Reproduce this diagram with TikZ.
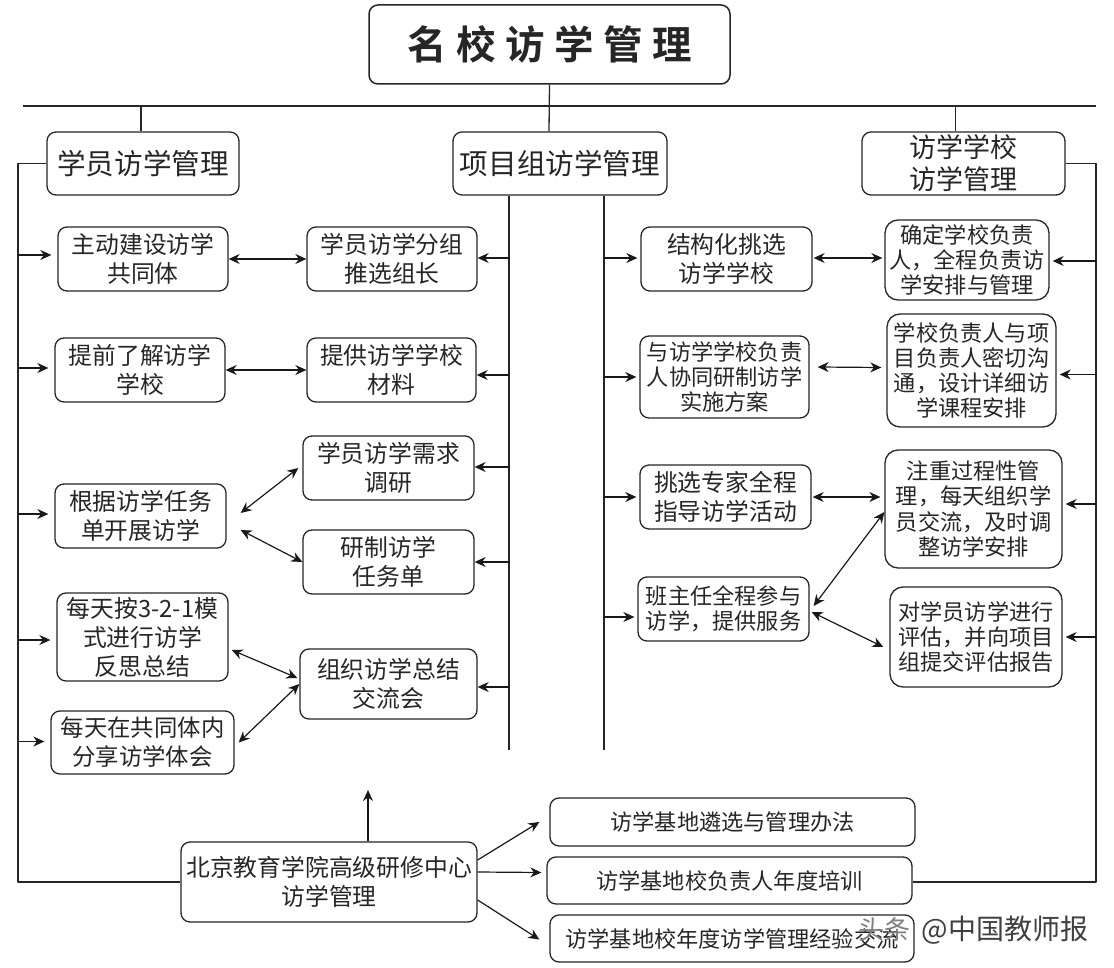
\documentclass[tikz,border=0pt]{standalone}
\usepackage{fontspec}
\setmainfont{Noto Sans CJK SC}
\newfontfamily\titlefont{Noto Sans CJK SC Bold}
\usetikzlibrary{arrows.meta}
\tikzset{
	stepbox/.style={draw=black!85,line width=1.3pt,rounded corners=9pt,align=center,inner sep=0pt,text=black!85,font=\fontsize{23.8}{29}\selectfont},
	smallbox/.style={stepbox,rounded corners=13pt,font=\fontsize{22.2}{25.2}\selectfont},
	headbox/.style={stepbox,font=\fontsize{28.6}{33}\selectfont},
	basebox/.style={stepbox,font=\fontsize{22.2}{26}\selectfont},
	oneway/.style={->,line width=1.2pt,draw=black!90},
	twoway/.style={<->,line width=1.2pt,draw=black!90},
	trunk/.style={line width=1.3pt,draw=black!85}
}
% box from its corners: name, x1, y1, x2, y2, text
\newcommand{\bx}[7][stepbox]{\node[#1,minimum width=#5pt-#3pt,minimum height=#6pt-#4pt] (#2) at ({(#3+#5)/2},{(#4+#6)/2}) {#7};}
\begin{document}
\begin{tikzpicture}[x=1pt,y=-1pt,>={Stealth[length=11pt,width=10pt]},line join=round]
	\useasboundingbox (0,0) rectangle (1114,968);
	\fill[white] (0,0) rectangle (1114,968);
	% top
	\bx[stepbox,line width=1.5pt]{title}{369}{5}{730}{84}{\titlefont\fontsize{39.5}{41}\selectfont 名\hspace{9.5pt}校\hspace{9.5pt}访\hspace{9.5pt}学\hspace{9.5pt}管\hspace{9.5pt}理}
	\bx[headbox]{stu}{47}{132}{239}{195}{学员访学管理}
	\bx[headbox]{prj}{453}{132}{667}{195}{项目组访学管理}
	\bx[headbox,font=\fontsize{27}{32}\selectfont]{sch}{862}{132}{1065}{195}{访学学校\\访学管理}
	% left
	\bx{a1}{58}{227}{228}{291}{主动建设访学\\共同体}
	\bx{a2}{55}{338}{225}{402}{提前了解访学\\学校}
	\bx{a3}{55}{484}{226}{548}{根据访学任务\\单开展访学}
	\bx{a4}{57}{593}{228}{681}{每天按3-2-1模\\式进行访学\\反思总结}
	\bx[stepbox,font=\fontsize{23.4}{29}\selectfont]{a5}{51}{711}{234}{774}{每天在共同体内\\分享访学体会}
	\bx{b1}{307}{227}{477}{291}{学员访学分组\\推选组长}
	\bx{b2}{307}{338}{476}{402}{提供访学学校\\材料}
	\bx{b3}{303}{436}{474}{500}{学员访学需求\\调研}
	\bx{b4}{303}{530}{474}{594}{研制访学\\任务单}
	\bx{b5}{300}{649}{477}{719}{组织访学总结\\交流会}
	% right
	\bx{c1}{641}{227}{812}{291}{结构化挑选\\访学学校}
	\bx[smallbox,rounded corners=9pt]{c2}{640}{336}{809}{418}{与访学学校负责\\人协同研制访学\\实施方案}
	\bx{c3}{640}{465}{811}{529}{挑选专家全程\\指导访学活动}
	\bx[smallbox,rounded corners=9pt]{c4}{638}{577}{809}{641}{班主任全程参与\\访学，提供服务}
	\bx[smallbox]{d1}{885}{220}{1049}{300}{确定学校负责\\人，全程负责访\\学安排与管理}
	\bx[smallbox]{d2}{887}{314}{1056}{427}{学校负责人与项\\目负责人密切沟\\通，设计详细访\\学课程安排}
	\bx[smallbox]{d3}{885}{450}{1062}{568}{注重过程性管\\理，每天组织学\\员交流，及时调\\整访学安排}
	\bx[smallbox]{d4}{890}{587}{1062}{687}{对学员访学进行\\评估，并向项目\\组提交评估报告}
	% bottom
	\bx{e}{181}{842}{477}{922}{北京教育学院高级研修中心\\访学管理}
	\bx[basebox]{f1}{550}{798}{915}{846}{访学基地遴选与管理办法}
	\bx[basebox]{f2}{547}{857}{912}{904}{访学基地校负责人年度培训}
	\bx[basebox]{f3}{550}{915}{914}{962}{访学基地校年度访学管理经验交流}
	\node[inner sep=0pt,text=black!50,font=\fontsize{26}{28}\selectfont] (logo) at (884,930) {头条};
	\node[inner sep=0pt,text=black!75,font=\fontsize{28}{30}\selectfont] (mark) at (1005,930) {@中国教师报};
	% trunks
	\coordinate (barl) at (23,106);
	\coordinate (barr) at (1096,106);
	\coordinate (lt) at (18,163);
	\coordinate (lb) at (18,882);
	\coordinate (rt) at (1096,163);
	\coordinate (rb) at (1096,882);
	\coordinate (pl) at (509,750);
	\coordinate (pr) at (604,750);
	\coordinate (up) at (368,790);
	\draw[trunk] (barl) -- (barr);
	\draw[trunk] (title.south) -- ([xshift=-11]prj.north);
	\draw[trunk] ([xshift=-2]stu.north) -- ([xshift=-2]stu.north |- barl);
	\draw[trunk] ([xshift=-8]sch.north) -- ([xshift=-8]sch.north |- barl);
	\draw[trunk] (stu.west) -- (stu.west -| lt) -- (lb) -- (lb -| e.west);
	\draw[trunk] (sch.east) -- (sch.east -| rt) -- (rb) -- (rb -| f2.east);
	\draw[trunk] (pl |- prj.south) -- (pl);
	\draw[trunk] (pr |- prj.south) -- (pr);
	% arrows from the trunks
	\foreach \n/\d in {a1/4,a2/2,a3/2,a4/-3,a5/1}
		\draw[oneway,shorten >=6pt] ([yshift=\d]\n.west -| lt) -- ([yshift=\d]\n.west);
	\foreach \n/\d in {b1/1,b2/-5,b3/1,b4/0,b5/-3}
		\draw[oneway] ([yshift=\d]\n.east -| pl) -- ([yshift=\d]\n.east);
	\foreach \n/\d in {c1/1,c2/0,c3/0,c4/-8}
		\draw[oneway,shorten >=3pt] ([yshift=\d]\n.west -| pr) -- ([yshift=\d]\n.west);
	\foreach \n/\d in {d1/-1,d2/-4,d3/5,d4/0}
		\draw[oneway,shorten >=3pt] ([yshift=\d]\n.east -| rt) -- ([yshift=\d]\n.east);
	% arrows between the boxes
	\draw[twoway] (a1.east) -- (b1.west);
	\draw[twoway] (a2.east) -- (b2.west);
	\draw[twoway] ([xshift=14,yshift=3]a3.east) -- ([xshift=-4]b3.west);
	\draw[twoway] ([xshift=14,yshift=-14]a3.east) -- (b4.west);
	\draw[twoway] ([xshift=3,yshift=-13]a4.east) -- ([xshift=-2,yshift=6]b5.west);
	\draw[twoway] ([xshift=4]a5.east) -- (b5.west);
	\draw[twoway] ([xshift=1,yshift=1]c1.east) -- ([xshift=-2,yshift=2]d1.west);
	\draw[twoway] ([xshift=8,yshift=10]c2.east) -- ([xshift=-5,yshift=3]d2.west);
	\draw[twoway] ([xshift=1]c3.east) -- ([xshift=-4,yshift=12]d3.west);
	\draw[twoway] ([xshift=4,yshift=3]c4.east) -- ([yshift=-3]d3.west);
	\draw[twoway] ([xshift=2,yshift=-3]c4.east) -- ([xshift=-6,yshift=-10]d4.west);
	% arrows from the bottom box
	\draw[oneway] (e.north -| up) -- (up);
	\draw[oneway] ([yshift=22]e.east) -- ([xshift=-10]f1.west);
	\draw[oneway] ([yshift=10]e.east) -- ([yshift=8,xshift=-5]f2.west);
	\draw[oneway] ([yshift=-18]e.east) -- ([xshift=-10,yshift=-1]f3.west);
\end{tikzpicture}
\end{document}
